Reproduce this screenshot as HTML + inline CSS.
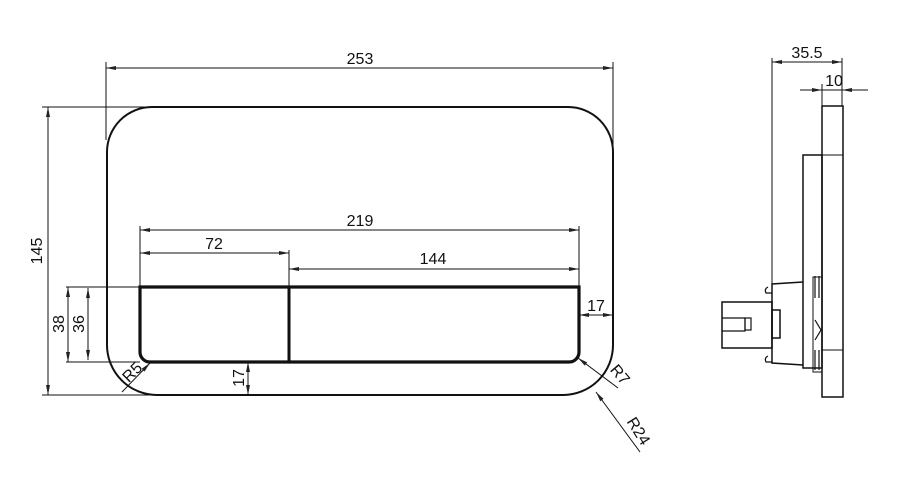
<!DOCTYPE html>
<html><head><style>body{margin:0;background:#fff}svg{display:block}text{font-family:"Liberation Sans",sans-serif;font-size:16px;fill:#111}</style></head>
<body>
<svg width="900" height="500" viewBox="0 0 900 500" xmlns="http://www.w3.org/2000/svg">
<defs><marker id="a" viewBox="0 0 10 6" refX="10" refY="3" markerWidth="10" markerHeight="6" orient="auto-start-reverse" markerUnits="userSpaceOnUse"><path d="M0,1 L10,3 L0,5z" fill="#222"/></marker></defs>
<g fill="none" stroke="#111">
<path d="M152,107 H568 A45,45 0 0 1 613,152 V345 A50,50 0 0 1 563,395 H157 A50,50 0 0 1 107,345 V152 A45,45 0 0 1 152,107Z" stroke-width="2"/>
<path d="M140,287 H579 V352 A10,10 0 0 1 569,362 H150 A10,10 0 0 1 140,352Z" stroke-width="3.2"/>
<line x1="289" y1="287" x2="289" y2="362" stroke-width="3"/>
<g stroke-width="1">
<line x1="106" y1="62" x2="106" y2="140"/><line x1="613" y1="62" x2="613" y2="150"/>
<line x1="106" y1="68" x2="613" y2="68" marker-start="url(#a)" marker-end="url(#a)"/>
<line x1="42" y1="107" x2="150" y2="107"/><line x1="42" y1="395" x2="160" y2="395"/>
<line x1="48" y1="107" x2="48" y2="395" marker-start="url(#a)" marker-end="url(#a)"/>
<line x1="140" y1="226" x2="140" y2="287"/><line x1="579" y1="226" x2="579" y2="287"/>
<line x1="140" y1="230" x2="579" y2="230" marker-start="url(#a)" marker-end="url(#a)"/>
<line x1="289" y1="250" x2="289" y2="287"/>
<line x1="140" y1="253" x2="289" y2="253" marker-start="url(#a)" marker-end="url(#a)"/>
<line x1="289" y1="269" x2="579" y2="269" marker-start="url(#a)" marker-end="url(#a)"/>
<line x1="66" y1="287" x2="140" y2="287"/><line x1="66" y1="362" x2="140" y2="362"/>
<line x1="68" y1="287" x2="68" y2="362" marker-start="url(#a)" marker-end="url(#a)"/>
<line x1="88" y1="288" x2="88" y2="360" marker-start="url(#a)" marker-end="url(#a)"/>
<line x1="248" y1="362" x2="248" y2="395" marker-start="url(#a)" marker-end="url(#a)"/>
<line x1="579" y1="315" x2="613" y2="315" marker-start="url(#a)" marker-end="url(#a)"/>
<line x1="150" y1="363" x2="122" y2="392" marker-start="url(#a)"/>
<line x1="578" y1="358" x2="618" y2="388" marker-start="url(#a)"/>
<line x1="596" y1="392" x2="640" y2="452" marker-start="url(#a)"/>
<line x1="772" y1="58" x2="772" y2="290"/><line x1="842" y1="58" x2="842" y2="106"/>
<line x1="822" y1="84" x2="822" y2="106"/>
<line x1="772" y1="62" x2="842" y2="62" marker-start="url(#a)" marker-end="url(#a)"/>
<line x1="800" y1="90" x2="822" y2="90" marker-end="url(#a)"/>
<line x1="868" y1="90" x2="842" y2="90" marker-end="url(#a)"/>
<line x1="822" y1="90" x2="842" y2="90"/>
</g>
<g stroke-width="1.5">
<rect x="822" y="106" width="21" height="291"/>
<rect x="803" y="155" width="19" height="213"/>
<line x1="822" y1="155" x2="843" y2="155" stroke-width="1"/>
<line x1="822" y1="350" x2="843" y2="350" stroke-width="1"/>
<path d="M803,282 L772,284 V363 L803,365"/>
<rect x="722" y="302" width="50" height="46"/>
<path d="M722,318 H745 V331 H722" stroke-width="1.2"/>
<rect x="745" y="318" width="6" height="12" stroke-width="1.2"/>
<rect x="772" y="310" width="8" height="28" stroke-width="1.5"/>
<path d="M768,287 q-4,2 -2,6 h6 M768,356 q-4,2 -2,6 h6" stroke-width="1.2"/>
<path d="M815,276 v22 M819,276 v22 M815,320 l6,10 l-6,10 M815,350 v20 M819,350 v20" stroke-width="1.2"/>
<rect x="813" y="277" width="9" height="95" stroke-width="1"/>
</g>
</g>
<text x="360" y="64" text-anchor="middle">253</text>
<text x="360" y="226" text-anchor="middle">219</text>
<text x="214" y="249" text-anchor="middle">72</text>
<text x="433" y="264" text-anchor="middle">144</text>
<text x="596" y="311" text-anchor="middle">17</text>
<text transform="translate(42,251) rotate(-90)" text-anchor="middle">145</text>
<text transform="translate(64,324) rotate(-90)" text-anchor="middle">38</text>
<text transform="translate(84,324) rotate(-90)" text-anchor="middle">36</text>
<text transform="translate(244,378) rotate(-90)" text-anchor="middle">17</text>
<text transform="translate(136,376) rotate(-45)" text-anchor="middle" font-size="13">R5</text>
<text transform="translate(616,378) rotate(50)" text-anchor="middle" font-size="13">R7</text>
<text transform="translate(634,434) rotate(58)" text-anchor="middle" font-size="13">R24</text>
<text x="807" y="58" text-anchor="middle">35.5</text>
<text x="834" y="86" text-anchor="middle">10</text>
</svg>
</body></html>
